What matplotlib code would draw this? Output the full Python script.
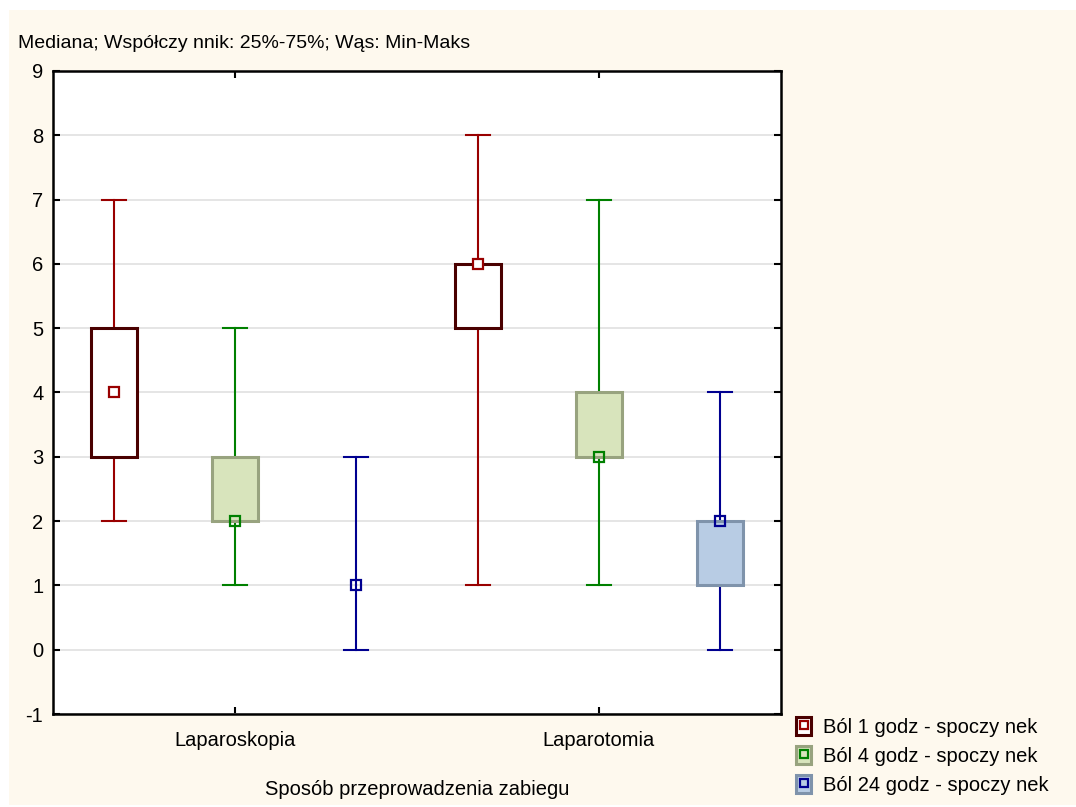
import matplotlib
matplotlib.use("Agg")
import matplotlib.pyplot as plt
from matplotlib.patches import Patch, Rectangle
from matplotlib.lines import Line2D
from matplotlib.legend_handler import HandlerTuple

plt.rcParams['font.family'] = ['Liberation Sans', 'DejaVu Sans']
plt.rcParams['axes.unicode_minus'] = False

categories = ["Laparoskopia", "Laparotomia"]
series = ["Ból 1 godz - spoczy nek", "Ból 4 godz - spoczy nek", "Ból 24 godz - spoczy nek"]

# per series: values for [Laparoskopia, Laparotomia]
mins = [[2, 1], [1, 1], [0, 0]]
q1s = [[3, 5], [2, 3], [1, 1]]
medians = [[4, 6], [2, 3], [1, 2]]
q3s = [[5, 6], [3, 4], [1, 2]]
maxs = [[7, 8], [5, 7], [3, 4]]

line_colors = ["#990000", "#008000", "#000090"]
box_faces = ["#ffffff", "#d8e4bc", "#b8cce4"]
box_edges = ["#4a0000", "#98a37f", "#7f93ab"]
marker_faces = ["#ffffff", "none", "none"]

offsets = [-0.333, 0.0, 0.333]
width = 0.127

fig = plt.figure(figsize=(10.76, 8.07), dpi=100, facecolor="white")
fig.patches.append(Rectangle((9 / 1076, 2 / 807), 1 - 9 / 1076, 1 - 12 / 807,
                             transform=fig.transFigure, facecolor="#fef9ee",
                             edgecolor="none", zorder=-10))
ax = fig.add_axes([53 / 1076, 1 - 714 / 807, (781 - 53) / 1076, (714 - 71) / 807])
ax.set_facecolor("white")

for s in range(3):
    stats = []
    for c in range(2):
        stats.append(dict(med=medians[s][c], q1=q1s[s][c], q3=q3s[s][c],
                          whislo=mins[s][c], whishi=maxs[s][c], fliers=[]))
    pos = [c + offsets[s] for c in range(2)]
    parts = ax.bxp(stats, positions=pos, widths=width, patch_artist=True,
                   showfliers=False, manage_ticks=False,
                   boxprops=dict(facecolor=box_faces[s], edgecolor=box_edges[s], linewidth=2.2, zorder=3),
                   whiskerprops=dict(color=line_colors[s], linewidth=1.5, zorder=2),
                   capprops=dict(color=line_colors[s], linewidth=1.5),
                   capwidths=0.066,
                   medianprops=dict(linewidth=0))
    for c, b in enumerate(parts["boxes"]):
        if q1s[s][c] == q3s[s][c]:
            b.set_visible(False)
    ax.plot(pos, medians[s], linestyle="none", marker="s", markersize=7,
            markerfacecolor=marker_faces[s], markeredgecolor=line_colors[s],
            markeredgewidth=1.6, zorder=5)

ax.set_xlim(-0.5, 1.5)
ax.set_ylim(-1, 9)
ax.set_yticks(range(-1, 10))
ax.set_xticks(range(2))
ax.set_xticklabels(categories)
ax.grid(axis="y", color="#e0e0e0", linewidth=1.2, zorder=0)
ax.set_axisbelow(True)
ax.tick_params(direction="in", length=5, width=1.5, top=True, right=True,
               labelsize=14.5)
ax.tick_params(axis="x", pad=12)
ax.tick_params(axis="y", pad=7)
for sp in ax.spines.values():
    sp.set_linewidth(1.8)

ax.set_xlabel("Sposób przeprowadzenia zabiegu", fontsize=14.5, labelpad=22)
fig.text(18 / 1076, 1 - 43 / 807, "Mediana; Współczy nnik: 25%-75%; Wąs: Min-Maks",
         fontsize=14, va="center", ha="left")

handles = []
for s in range(3):
    p = Patch(facecolor=box_faces[s], edgecolor=box_edges[s], linewidth=2.2)
    m = Line2D([], [], linestyle="none", marker="s", markersize=6,
               markerfacecolor="none", markeredgecolor=line_colors[s], markeredgewidth=1.6)
    handles.append((p, m))
fig.legend(handles, series, loc="upper left",
           bbox_to_anchor=(778 / 1076, 1 - 699 / 807), frameon=False,
           handler_map={tuple: HandlerTuple(ndivide=1, pad=0)},
           handlelength=0.75, handleheight=1.0, handletextpad=0.6,
           labelspacing=0.45, fontsize=14.5)

fig.savefig("out.png", dpi=100, facecolor=fig.get_facecolor())
